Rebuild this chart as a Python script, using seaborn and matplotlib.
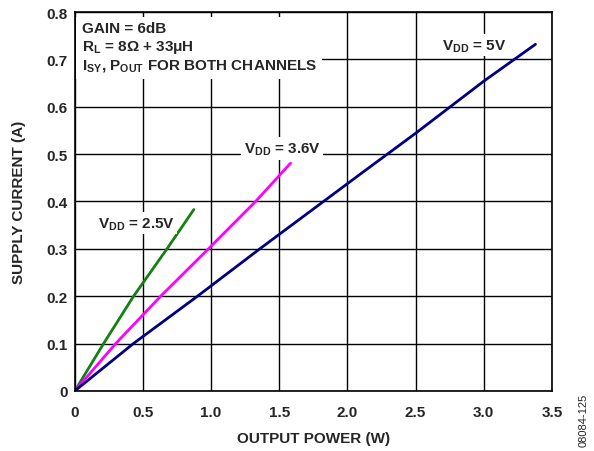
import pandas as pd
import seaborn as sns
import matplotlib.pyplot as plt

# curvas (potência de saída W, corrente A)
p_25 = [0, 0.211, 0.431, 0.676, 0.873]
i_25 = [0, 0.10, 0.20, 0.30, 0.383]

p_36 = [0, 0.30, 0.63, 0.98, 1.326, 1.583]
i_36 = [0, 0.10, 0.20, 0.30, 0.40, 0.481]

p_50 = [0, 0.43, 0.90, 1.357, 2.10, 2.50, 3.00, 3.38]
i_50 = [0, 0.10, 0.20, 0.30, 0.459, 0.544, 0.654, 0.732]

series = ["2.5V", "3.6V", "5V"]
cores = {"2.5V": "#138013", "3.6V": "#ff00ff", "5V": "#000080"}

x_ticks = [0, 0.5, 1.0, 1.5, 2.0, 2.5, 3.0, 3.5]
x_labels = ["0", "0.5", "1.0", "1.5", "2.0", "2.5", "3.0", "3.5"]
y_ticks = [0, 0.1, 0.2, 0.3, 0.4, 0.5, 0.6, 0.7, 0.8]
y_labels = ["0", "0.1", "0.2", "0.3", "0.4", "0.5", "0.6", "0.7", "0.8"]

df = pd.concat([
    pd.DataFrame({"p": p_25, "i": i_25, "vdd": "2.5V"}),
    pd.DataFrame({"p": p_36, "i": i_36, "vdd": "3.6V"}),
    pd.DataFrame({"p": p_50, "i": i_50, "vdd": "5V"}),
])

sns.set_style("white")
plt.rcParams["font.family"] = ["Liberation Sans", "DejaVu Sans"]
plt.rcParams["font.weight"] = "bold"

fig = plt.figure(figsize=(5.94, 4.52), dpi=100)
ax = fig.add_axes([0.126, 0.133, 0.803, 0.838])

sns.lineplot(data=df, x="p", y="i", hue="vdd", hue_order=series,
             palette=cores, linewidth=2, legend=False, sort=False, ax=ax)

ax.set_xlim(0, 3.5)
ax.set_ylim(0, 0.8)
ax.set_xticks(x_ticks)
ax.set_xticklabels(x_labels)
ax.set_yticks(y_ticks)
ax.set_yticklabels(y_labels)
ax.tick_params(length=0, labelsize=11, pad=10, axis="x")
ax.tick_params(length=0, labelsize=11, pad=5, axis="y")
ax.grid(True, color="black", linewidth=1)
ax.set_axisbelow(True)
for s in ax.spines.values():
    s.set_color("black")
    s.set_linewidth(1.2)

ax.set_xlabel("OUTPUT POWER (W)", fontsize=11, fontweight="bold", labelpad=9)
ax.set_ylabel("SUPPLY CURRENT (A)", fontsize=11, fontweight="bold", labelpad=15)

caixa = dict(facecolor="white", edgecolor="none", pad=2)
ax.text(0.05, 0.782,
        "GAIN = 6dB\nR$_\\mathregular{L}$ = 8Ω + 33μH\n"
        "I$_\\mathregular{SY}$, P$_\\mathregular{OUT}$ FOR BOTH CHANNELS",
        fontsize=11, fontweight="bold", va="top", ha="left",
        linespacing=1.25, bbox=dict(facecolor="white", edgecolor="none", pad=4),
        zorder=3)
ax.text(2.93, 0.73, "V$_\\mathregular{DD}$ = 5V", fontsize=11,
        fontweight="bold", ha="center", va="center", bbox=caixa, zorder=3)
ax.text(1.52, 0.512, "V$_\\mathregular{DD}$ = 3.6V", fontsize=11,
        fontweight="bold", ha="center", va="center", bbox=caixa, zorder=3)
ax.text(0.45, 0.354, "V$_\\mathregular{DD}$ = 2.5V", fontsize=11,
        fontweight="bold", ha="center", va="center", bbox=caixa, zorder=3)

fig.text(0.982, 0.01, "08084-125", rotation=90, fontsize=8,
         fontweight="normal", ha="center", va="bottom")

fig.savefig("out.png", dpi=100)
